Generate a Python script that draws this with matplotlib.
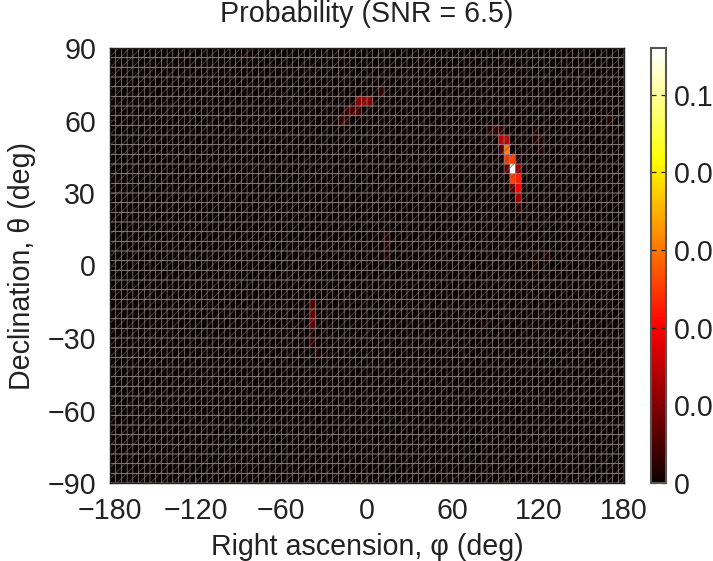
#!/usr/bin/env python3
import numpy as np
import matplotlib
matplotlib.use('Agg')
import matplotlib.pyplot as plt
from matplotlib.patches import Rectangle

plt.rcParams['font.family'] = ['Liberation Sans', 'DejaVu Sans']
plt.rcParams['axes.unicode_minus'] = True
plt.rcParams['hatch.linewidth'] = 0.55

# lower left corner of each non empty 4 x 4 deg sky cell, and its probability
cell_ra = [100, 100, 104, 96, 100, 96, 92, 96, 104, 100, 104, 104, 104,
           96, 92, 84, 88, 92, 104,
           -8, -4, 0, -16, -12, -8, -20, -16, 8,
           -40, -40, -40, -40, -40, -36,
           12, 12, 12, 116, 116, 120, 116, 124, 116, 120, 170, 80]
cell_dec = [38, 34, 34, 46, 42, 42, 50, 50, 38, 30, 30, 26, 22,
            38, 46, 54, 54, 54, 42,
            66, 66, 66, 62, 62, 62, 58, 58, 70,
            -18, -22, -26, -30, -34, -38,
            10, 6, 2, 54, 50, 46, -2, 2, 2, 50, 58, -26]
cell_prob = [0.112, 0.052, 0.046, 0.062, 0.052, 0.05, 0.03, 0.03, 0.024,
             0.014, 0.04, 0.026, 0.006,
             0.014, 0.012, 0.005, 0.008, 0.008, 0.004,
             0.022, 0.024, 0.02, 0.008, 0.011, 0.01, 0.007, 0.006, 0.007,
             0.012, 0.016, 0.015, 0.004, 0.006, 0.003,
             0.004, 0.005, 0.003, 0.004, 0.005, 0.004, 0.004, 0.003, 0.003, 0.004, 0.004, 0.002]

ra_ticks = [-180, -120, -60, 0, 60, 120, 180]
dec_ticks = [-90, -60, -30, 0, 30, 60, 90]
cbar_ticks = [0, 0.02, 0.04, 0.06, 0.08, 0.1]
# the labels run off the right edge of the reference, this is what is readable
cbar_labels = ['0', '0.0', '0.0', '0.0', '0.0', '0.1']
prob_max = 0.112

ra_edges = np.arange(-180, 181, 4)
dec_edges = np.arange(-90, 91, 4)
prob = np.zeros((len(dec_edges) - 1, len(ra_edges) - 1))
for ra, dec, p in zip(cell_ra, cell_dec, cell_prob):
    prob[(dec + 90) // 4, (ra + 180) // 4] = p

W, H = 713.0, 561.0
fs = 20.6
text_col = '#222222'
fig = plt.figure(figsize=(W / 100, H / 100), dpi=100)
ax = fig.add_axes([110 / W, (H - 483) / H, 514 / W, 435 / H])

mesh = ax.pcolormesh(ra_edges, dec_edges, prob, cmap='hot', vmin=0, vmax=prob_max)
# cell borders and pdf seams of the original pcolor
grid_col = (0.62, 0.58, 0.58)
vl = ax.vlines(ra_edges, -90, 90, color=grid_col, linewidth=0.45)
hl = ax.hlines(dec_edges, -180, 180, color=grid_col, linewidth=0.6)
vl.set_snap(False)
hl.set_snap(False)
ax.add_patch(Rectangle((-180, -90), 360, 180, fill=False, hatch='///',
                       edgecolor=(0.38, 0.33, 0.33, 0.85), linewidth=0))

ax.set_xlim(-180, 180)
ax.set_ylim(-90, 90)
ax.set_xticks(ra_ticks)
ax.set_yticks(dec_ticks)
ax.tick_params(labelsize=fs, direction='in', length=4, width=0.8,
               labelcolor=text_col, color='#333333')
ax.tick_params(axis='x', pad=10)
ax.tick_params(axis='y', pad=10)
for s in ax.spines.values():
    s.set_linewidth(1.0)
    s.set_color('#222222')
ax.set_xlabel('Right ascension, \u03c6 (deg)', fontsize=fs, color=text_col, labelpad=5.5)
ax.set_ylabel('Declination, \u03b8 (deg)', fontsize=fs, color=text_col, labelpad=8)
ax.set_title('Probability (SNR = 6.5)', fontsize=fs, color=text_col, pad=18.6)

cax = fig.add_axes([651 / W, (H - 483) / H, 15 / W, 435 / H])
cb = fig.colorbar(mesh, cax=cax)
cb.set_ticks(cbar_ticks)
cb.set_ticklabels(cbar_labels)
cb.solids.set_edgecolor('face')
cax.tick_params(labelsize=fs, direction='in', length=3.5, width=0.9, pad=5.5,
                left=True, right=True, labelcolor=text_col, color='#222222')
cb.outline.set_linewidth(1.5)
cb.outline.set_edgecolor('#555555')

fig.savefig('out.png', dpi=100)
